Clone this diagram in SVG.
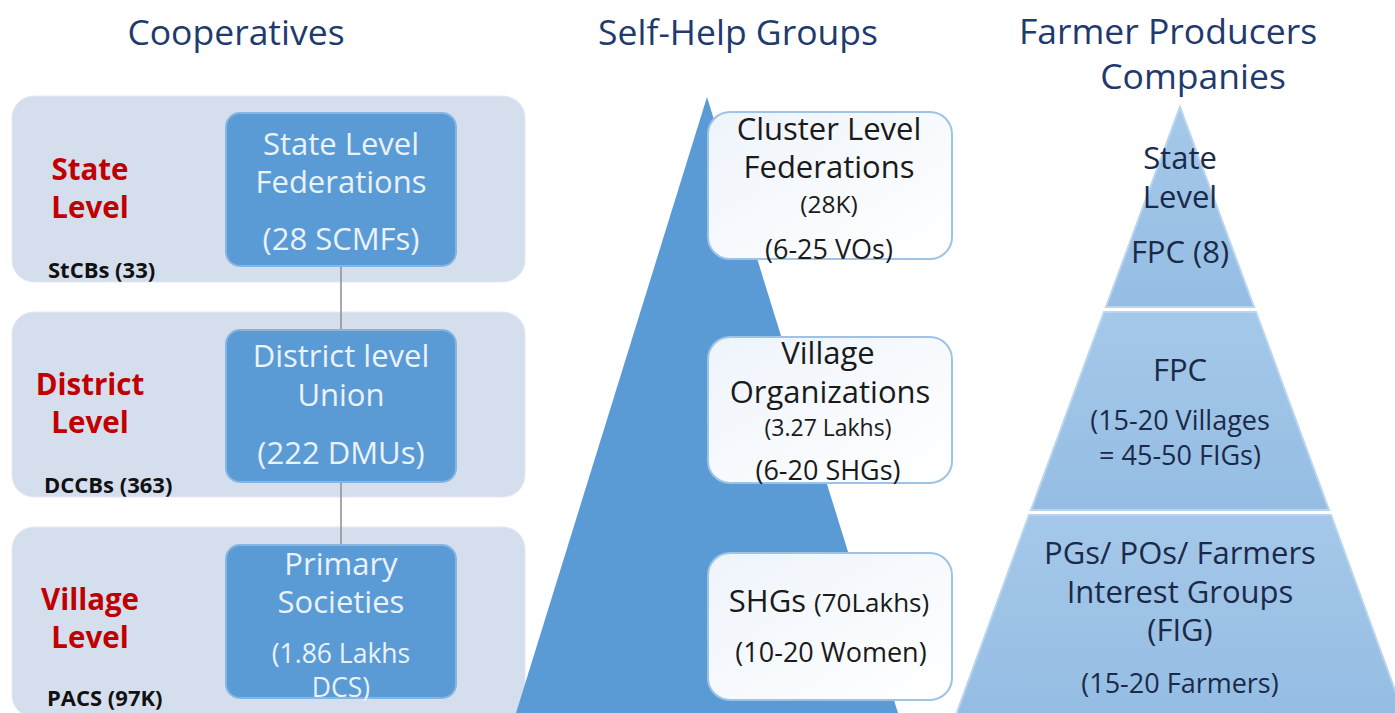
<svg xmlns="http://www.w3.org/2000/svg" width="1395" height="713" viewBox="0 0 1395 713">
<defs>
<style>
.hd{font-family:"Open Sans","Liberation Sans",sans-serif;font-size:35.5px;fill:#1f3a6e;text-anchor:middle}
.panel{fill:#d5deed;stroke:#e3e9f3;stroke-width:1}
.ibox{fill:#5b9bd5;stroke:#86b5e2;stroke-width:2}
.wt{font-family:"Open Sans","Liberation Sans",sans-serif;font-size:31px;fill:#eaf2fa;text-anchor:middle}
.red{font-family:"Open Sans","Liberation Sans",sans-serif;font-weight:bold;font-size:29.5px;fill:#c00000;text-anchor:middle}
.blk{font-family:"Open Sans","Liberation Sans",sans-serif;font-weight:bold;font-size:22px;fill:#111}
.sbox{fill:url(#sg);stroke:#9dc3e6;stroke-width:2}
.dt{font-family:"Open Sans","Liberation Sans",sans-serif;font-size:31px;fill:#1a1a1a;text-anchor:middle}
.pyr{fill:url(#pg);stroke:#b9d5ef;stroke-width:2}
.nt{font-family:"Open Sans","Liberation Sans",sans-serif;font-size:31px;fill:#1a2a48;text-anchor:middle}
.sm{font-size:27px}
.conn{stroke:#8c8c8c;stroke-width:1.5;fill:none}
</style>
<linearGradient id="sg" x1="0" y1="0" x2="1" y2="1">
<stop offset="0" stop-color="#eef4fb"/>
<stop offset="1" stop-color="#ffffff"/>
</linearGradient>
<linearGradient id="pg" x1="0" y1="0" x2="0" y2="1">
<stop offset="0" stop-color="#a4c8e9"/>
<stop offset="1" stop-color="#95bde3"/>
</linearGradient>
</defs>
<rect width="1395" height="713" fill="#ffffff"/>

<g id="headings">
<text class="hd" x="236" y="45">Cooperatives</text>
<text class="hd" x="738" y="45">Self-Help Groups</text>
<text class="hd" x="1168" y="44">Farmer Producers</text>
<text class="hd" x="1193" y="89">Companies</text>
</g>

<g id="panel-state">
<rect class="panel" x="12" y="96" width="513" height="186" rx="22"/>
<text class="red" x="90" y="180">State</text>
<text class="red" x="90" y="218">Level</text>
<text class="blk" x="48" y="278">StCBs (33)</text>
</g>
<g id="panel-district">
<rect class="panel" x="12" y="312" width="513" height="185" rx="22"/>
<text class="red" x="90" y="395">District</text>
<text class="red" x="90" y="433">Level</text>
<text class="blk" x="44" y="493">DCCBs (363)</text>
</g>
<g id="panel-village">
<rect class="panel" x="12" y="527" width="513" height="190" rx="22"/>
<text class="red" x="90" y="610">Village</text>
<text class="red" x="90" y="648">Level</text>
<text class="blk" x="47" y="706">PACS (97K)</text>
</g>

<g id="shg-triangle">
<polygon points="707,97 898,713 516,713" fill="#5b9bd5"/>
</g>

<g id="connectors">
<line class="conn" x1="341" y1="266" x2="341" y2="330"/>
<line class="conn" x1="341" y1="482" x2="341" y2="545"/>
</g>

<g id="coop-state">
<rect class="ibox" x="226" y="113" width="230" height="153" rx="14"/>
<text class="wt" x="341" y="155">State Level</text>
<text class="wt" x="341" y="193">Federations</text>
<text class="wt" x="341" y="250">(28 SCMFs)</text>
</g>
<g id="coop-district">
<rect class="ibox" x="226" y="330" width="230" height="152" rx="14"/>
<text class="wt" x="341" y="367">District level</text>
<text class="wt" x="341" y="406">Union</text>
<text class="wt" x="341" y="464">(222 DMUs)</text>
</g>
<g id="coop-village">
<rect class="ibox" x="226" y="545" width="230" height="153" rx="14"/>
<text class="wt" x="341" y="575">Primary</text>
<text class="wt" x="341" y="613">Societies</text>
<text class="wt" x="341" y="663" style="font-size:26.5px">(1.86 Lakhs</text>
<text class="wt" x="341" y="697" style="font-size:26.5px">DCS)</text>
</g>

<g id="shg-clf">
<rect class="sbox" x="708" y="112" width="244" height="147" rx="22"/>
<text class="dt" x="829" y="140">Cluster Level</text>
<text class="dt" x="829" y="178">Federations</text>
<text class="dt" x="829" y="213" style="font-size:24.5px">(28K)</text>
<text class="dt sm" x="829" y="259">(6-25 VOs)</text>
</g>
<g id="shg-vo">
<rect class="sbox" x="708" y="337" width="244" height="146" rx="22"/>
<text class="dt" x="828" y="364">Village</text>
<text class="dt" x="830" y="403">Organizations</text>
<text class="dt" x="828" y="436" style="font-size:23px">(3.27 Lakhs)</text>
<text class="dt sm" x="828" y="480">(6-20 SHGs)</text>
</g>
<g id="shg-shg">
<rect class="sbox" x="708" y="553" width="244" height="147" rx="22"/>
<text class="dt" x="829" y="612">SHGs <tspan style="font-size:26px">(70Lakhs)</tspan></text>
<text class="dt sm" x="831" y="662">(10-20 Women)</text>
</g>

<g id="fpc-state">
<polygon class="pyr" points="1180,107 1254,307 1106,307"/>
<text class="nt" x="1180" y="169">State</text>
<text class="nt" x="1180" y="208">Level</text>
<text class="nt" x="1180" y="263">FPC (8)</text>
</g>
<g id="fpc-mid">
<polygon class="pyr" points="1104,312 1256,312 1329,510 1031,510"/>
<text class="nt" x="1180" y="381">FPC</text>
<text class="nt sm" x="1180" y="430">(15-20 Villages</text>
<text class="nt sm" x="1180" y="465">= 45-50 FIGs)</text>
</g>
<g id="fpc-fig">
<polygon class="pyr" points="1029,515 1331,515 1404,715 956,715"/>
<text class="nt" x="1180" y="564">PGs/ POs/ Farmers</text>
<text class="nt" x="1180" y="603">Interest Groups</text>
<text class="nt" x="1180" y="641">(FIG)</text>
<text class="nt sm" x="1180" y="693">(15-20 Farmers)</text>
</g>
</svg>
